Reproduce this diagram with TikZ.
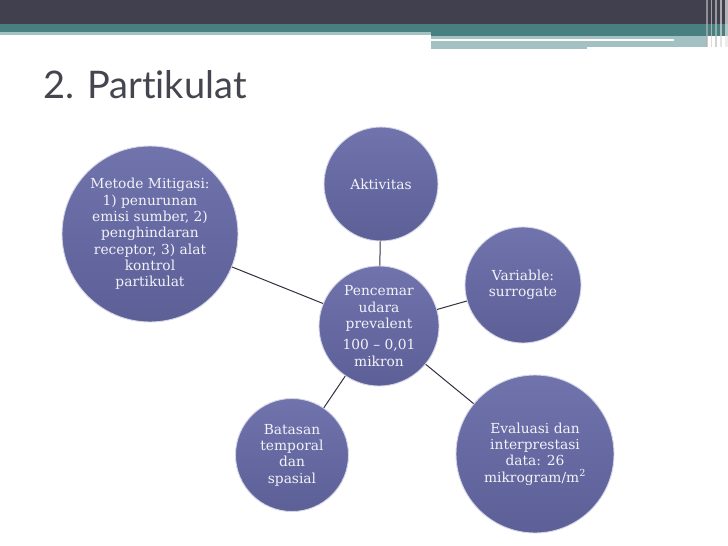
\documentclass[tikz,border=0pt]{standalone}
\usepackage{fontspec}
\newfontfamily\titlefont{Lato}[Ligatures=NoCommon]
\newfontfamily\bubfont{DejaVu Serif}[Ligatures=TeX]
\definecolor{darkbar}{HTML}{40404F}
\definecolor{tealbar}{HTML}{487F80}
\definecolor{lightbar}{HTML}{A3C0C3}
\definecolor{bubtop}{HTML}{7073AC}
\definecolor{bubbot}{HTML}{5D6097}
\definecolor{linkc}{HTML}{303040}
\definecolor{txt}{HTML}{F2F2F8}
\definecolor{titlec}{HTML}{45454F}
\tikzset{
  bubble/.style={circle, draw=white!70!bubtop, line width=0.9pt, top color=bubtop, bottom color=bubbot,
    text=txt, align=center, inner sep=0pt, font=\bubfont\fontsize{13.8}{16.3}\selectfont},
  link/.style={draw=linkc, line width=1pt},
}
\begin{document}
\begin{tikzpicture}[x=1pt,y=-1pt]
\useasboundingbox (0,0) rectangle (728,546);
% header bars
\fill[darkbar] (0,0) rectangle (728,24);
\fill[tealbar] (0,24) rectangle (728,32);
\fill[tealbar] (431,32) rectangle (728,36);
\fill[lightbar] (0,32) rectangle (431,35);
\fill[lightbar] (431,36) rectangle (707,39);
\fill[lightbar] (674,39) rectangle (707,41);
\fill[lightbar] (431,41) rectangle (707,47);
\fill[lightbar] (431,47) rectangle (587,49);
\fill[gray!60, opacity=0.7] (706,0) rectangle (708,47);
\fill[gray!40, opacity=0.7] (711,0) rectangle (712,47);
\fill[gray!50, opacity=0.7] (715,0) rectangle (717,47);
\fill[gray!30, opacity=0.7] (720,0) rectangle (722,47);
\fill[gray!20, opacity=0.7] (725,0) rectangle (728,47);
% title
\node[anchor=base west, inner sep=0pt, text=titlec, font=\titlefont\fontsize{38}{42}\selectfont] (title) at (43,98) {2. Partikulat};
% bubbles
\node[bubble, minimum size=120pt] (c) at (379,326) {Pencemar\\udara\\prevalent\\[5pt]100 – 0,01\\mikron};
\node[bubble, minimum size=114pt] (a) at (381,184) {Aktivitas};
\node[bubble, minimum size=116pt] (v) at (523,285) {Variable:\\surrogate};
\node[bubble, minimum size=158pt] (e) at (535,454) {Evaluasi dan\\interprestasi\\data: 26\\mikrogram/m\textsuperscript{2}};
\node[bubble, minimum size=113pt] (b) at (292,455) {Batasan\\temporal\\dan\\spasial};
\node[bubble, minimum size=176pt] (m) at (150,234) {Metode Mitigasi:\\1) penurunan\\emisi sumber, 2)\\penghindaran\\receptor, 3) alat\\kontrol\\partikulat};
% links
\draw[link] (c) -- (a);
\draw[link] (c) -- (v);
\draw[link] (c) -- (e);
\draw[link] (c) -- (b);
\draw[link] (c) -- (m);
\end{tikzpicture}
\end{document}
